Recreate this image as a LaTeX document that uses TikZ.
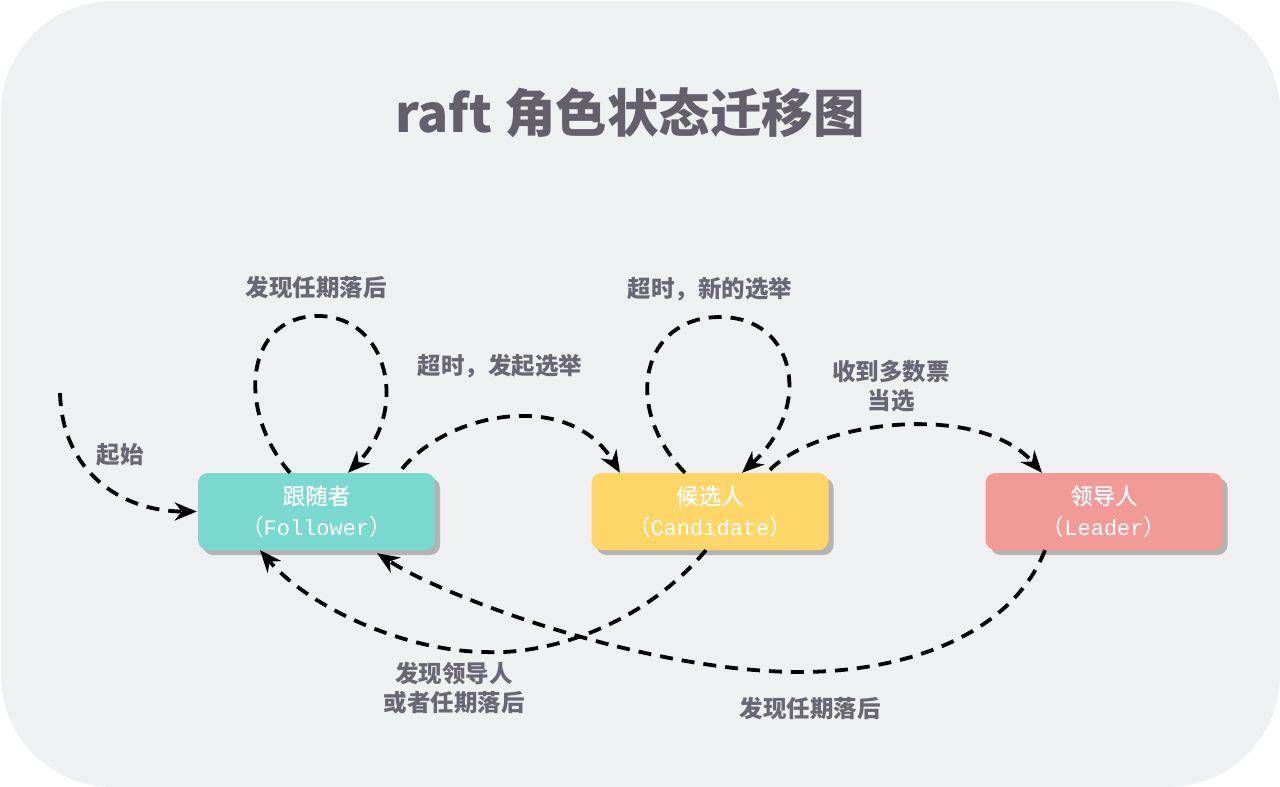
\documentclass[tikz,border=0pt]{standalone}
\usepackage{fontspec}
\newfontfamily\cjk{Noto Sans CJK SC}
\newfontfamily\cjkm[FakeBold=0.8]{Noto Sans CJK SC}
\newfontfamily\monof{Liberation Mono}
\usetikzlibrary{arrows.meta,shadows}
\definecolor{bgc}{HTML}{EFF0F2}
\definecolor{teal}{HTML}{79D9CE}
\definecolor{yel}{HTML}{FDD667}
\definecolor{pnk}{HTML}{F19A96}
\definecolor{shd}{HTML}{B3B3B3}
\definecolor{lblc}{HTML}{6A6774}
\definecolor{ttlc}{HTML}{63606C}
\tikzset{
  state/.style={rounded corners=10pt, minimum width=237pt, minimum height=77pt,
    inner sep=0pt, align=center, text=white,
    font=\cjk\fontsize{22.5}{31}\selectfont,
    drop shadow={shadow xshift=5pt, shadow yshift=-5pt, fill=shd, opacity=1}},
  lbl/.style={text=lblc, align=center, font=\cjk\bfseries\fontsize{23.5}{29}\selectfont},
  flow/.style={line width=3.8pt, dash pattern=on 13pt off 9pt,
    -{Stealth[length=22pt,width=18pt,inset=7pt]}}
}
\begin{document}
\begin{tikzpicture}[x=1pt,y=-1pt]
\useasboundingbox (0,0) rectangle (1280,787);
\fill[white] (0,0) rectangle (1280,787);
\fill[bgc, rounded corners=112pt] (1,1) rectangle (1280,787);

\node[text=ttlc, font=\cjk\bfseries\fontsize{51.5}{56}\selectfont] (title) at (630,113) {raft 角色状态迁移图};

\node[state, fill=teal] (F) at (316.5,511.5) {{\cjkm 跟随者}\\{\cjk （}{\monof\fontsize{22}{31}\selectfont Follower}{\cjk ）}};
\node[state, fill=yel] (C) at (710,511.5) {{\cjkm 候选人}\\{\cjk （}{\monof\fontsize{22}{31}\selectfont Candidate}{\cjk ）}};
\node[state, fill=pnk] (L) at (1104,511.5) {{\cjkm 领导人}\\{\cjk （}{\monof\fontsize{22}{31}\selectfont Leader}{\cjk ）}};

\coordinate (start) at (60,393);

\node[lbl] (l1) at (120,455) {起始};
\node[lbl] (l2) at (316,287) {发现任期落后};
\node[lbl] (l3) at (500,366) {超时，发起选举};
\node[lbl] (l4) at (710,289) {超时，新的选举};
\node[lbl] (l5) at (891,386) {收到多数票\\当选};
\node[lbl] (l6) at (454,688) {发现领导人\\或者任期落后};
\node[lbl] (l7) at (810,708) {发现任期落后};

% start
\draw[flow] (start) .. controls +(2,78) and +(-76,0) .. ([xshift=-1pt]F.west);
% follower self loop
\draw[flow] ([xshift=-26.5pt]F.north) .. controls +(-55,-64) and +(-72,0) .. (318,316)
  .. controls +(70,0) and +(62,-63) .. ([xshift=31.5pt]F.north);
% follower -> candidate
\draw[flow] ([xshift=85.5pt,yshift=4pt]F.north) .. controls +(48,-58) and +(-50,-83) .. ([xshift=-90pt]C.north);
% candidate self loop
\draw[flow] ([xshift=-25pt]C.north) .. controls +(-64,-66) and +(-78,0) .. (720,317)
  .. controls +(76,0) and +(72,-66) .. ([xshift=32pt]C.north);
% candidate -> leader
\draw[flow] ([xshift=60pt,yshift=3pt]C.north) .. controls +(50,-50) and +(-62,-71) .. ([xshift=-62pt]L.north);
% candidate -> follower
\draw[flow] ([xshift=-4pt]C.south) .. controls +(-66,78) and +(60,3) .. (485,652)
  .. controls +(-80,-1) and +(50,58) .. ([xshift=-56.5pt]F.south);
% leader -> follower
\draw[flow] ([xshift=-59pt]L.south) .. controls +(-35,88) and +(100,0) .. (800,672)
  .. controls +(-150,0) and +(73,47) .. ([xshift=60.5pt,yshift=-3pt]F.south);
\end{tikzpicture}
\end{document}
